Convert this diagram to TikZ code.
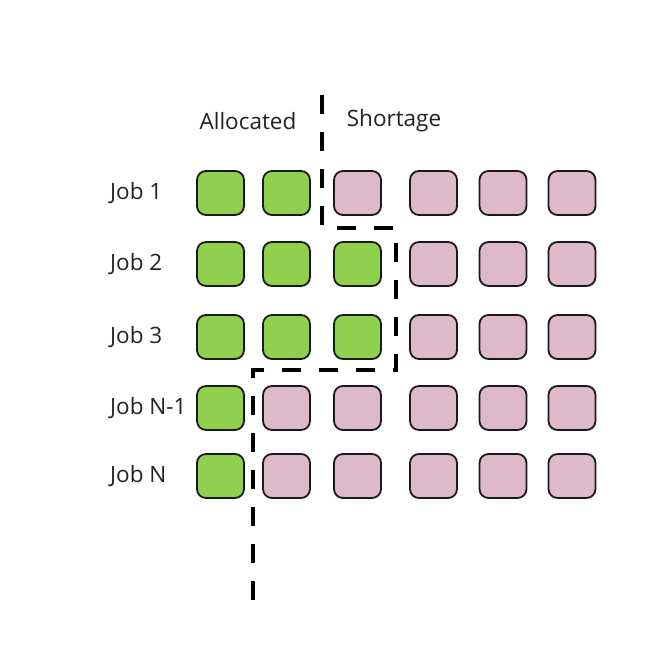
\documentclass[tikz,border=0pt]{standalone}
\usepackage{fontspec}
\setmainfont{Open Sans}
\usetikzlibrary{positioning}
\definecolor{AllocGreen}{HTML}{8FD14F}
\definecolor{ShortPink}{HTML}{DDB9CA}
\definecolor{CellEdge}{HTML}{1A1A1A}
\definecolor{LabelGrey}{HTML}{222222}

\begin{document}
\begin{tikzpicture}[
  x=1pt, y=-1pt,
  cell/.style={
    rectangle, rounded corners=9pt,
    draw=CellEdge, line width=1.8pt,
    minimum width=47pt, minimum height=44pt,
    inner sep=0pt
  },
  alloc/.style={cell, fill=AllocGreen},
  short/.style={cell, fill=ShortPink},
  joblabel/.style={anchor=west, inner sep=0pt, text=LabelGrey, font=\fontsize{22.5}{27}\selectfont},
  head/.style={text=LabelGrey, font=\fontsize{22.5}{27}\selectfont},
  cutline/.style={line width=4pt, dash pattern=on 19pt off 18pt, color=black},
]
\useasboundingbox (0,0) rectangle (666,650);

% Column headers
\node[head] (alloc) at (248,121) {Allocated};
\node[head] (short) at (394,121) {Shortage};

% Job rows: row / y / allocated cells / label
\foreach \r/\y/\n/\lab in {1/193/2/Job 1, 2/264/3/Job 2, 3/337/3/Job 3, 4/408/1/Job N-1, 5/476/1/Job N}{
  \node[joblabel] (job\r) at (110,\y) {\lab};
  \foreach \c/\x in {1/220.5, 2/286.5, 3/357.5, 4/433.5, 5/503, 6/572}{
    \ifnum\c>\n\relax
      \node[short] (cell\r-\c) at (\x,\y) {};
    \else
      \node[alloc] (cell\r-\c) at (\x,\y) {};
    \fi
  }
}

% Allocation boundary
\coordinate (cutA) at (322,95);
\coordinate (cutB) at (322,228);
\coordinate (cutC) at (396,228);
\coordinate (cutD) at (396,370);
\coordinate (cutE) at (253,370);
\coordinate (cutF) at (253,606);
\draw[cutline] (cutA) -- (cutB) -- (cutC) -- (cutD) -- (cutE) -- (cutF);

\end{tikzpicture}
\end{document}
